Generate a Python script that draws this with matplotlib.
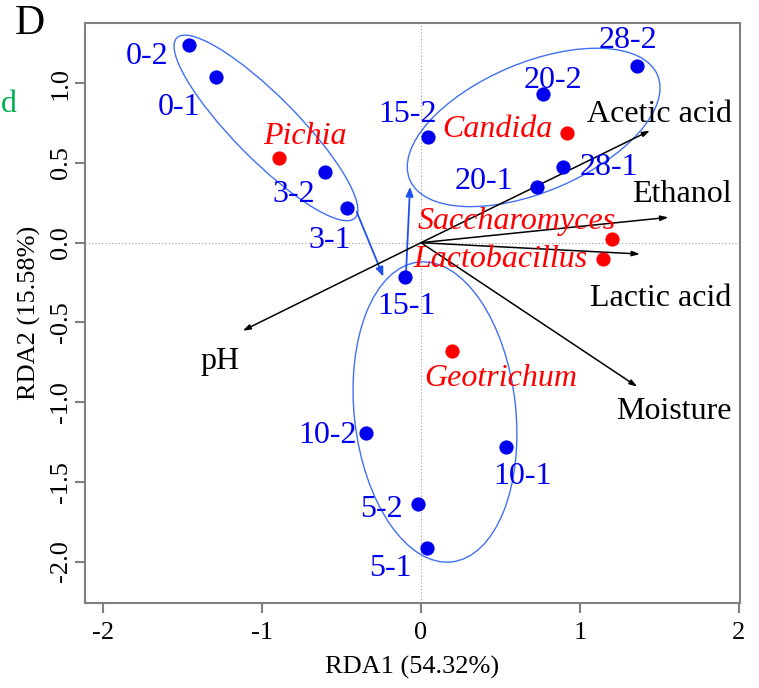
import matplotlib
matplotlib.use("Agg")
import matplotlib.pyplot as plt
from matplotlib.patches import Ellipse

# ---- data -------------------------------------------------------------
samples = ["0-1", "0-2", "3-1", "3-2", "5-1", "5-2", "10-1", "10-2",
           "15-1", "15-2", "20-1", "20-2", "28-1", "28-2"]
sample_rda1 = [-1.290, -1.458, -0.468, -0.604, 0.036, -0.017, 0.533, -0.346,
               -0.101, 0.042, 0.732, 0.770, 0.896, 1.357]
sample_rda2 = [1.041, 1.240, 0.216, 0.445, -1.917, -1.640, -1.280, -1.192,
               -0.213, 0.661, 0.348, 0.933, 0.473, 1.109]

genera = ["Pichia", "Candida", "Saccharomyces", "Lactobacillus", "Geotrichum"]
genus_rda1 = [-0.892, 0.921, 1.200, 1.143, 0.197]
genus_rda2 = [0.529, 0.686, 0.021, -0.102, -0.679]

factors = ["Acetic acid", "Ethanol", "Lactic acid", "Moisture", "pH"]
factor_rda1 = [1.441, 1.557, 1.378, 1.361, -1.122]
factor_rda2 = [0.703, 0.159, -0.071, -0.903, -0.552]

x_ticks = [-2, -1, 0, 1, 2]
y_ticks = [-2.0, -1.5, -1.0, -0.5, 0.0, 0.5, 1.0]
x_title = "RDA1 (54.32%)"
y_title = "RDA2 (15.58%)"

# ---- layout -----------------------------------------------------------
sample_label_pos = {
    "0-2": (-1.726, 1.188), "0-1": (-1.523, 0.870), "3-2": (-0.799, 0.320),
    "3-1": (-0.573, 0.034), "15-2": (-0.082, 0.822), "20-2": (0.828, 1.038),
    "28-2": (1.303, 1.289), "28-1": (1.183, 0.492), "20-1": (0.396, 0.404),
    "15-1": (-0.091, -0.380), "10-1": (0.639, -1.447), "10-2": (-0.588, -1.192),
    "5-2": (-0.247, -1.656), "5-1": (-0.195, -2.022),
}
genus_label_pos = {
    "Pichia": (-0.730, 0.686), "Candida": (0.481, 0.728),
    "Saccharomyces": (0.602, 0.153), "Lactobacillus": (0.503, -0.088),
    "Geotrichum": (0.502, -0.830),
}
factor_label_pos = {
    "Acetic acid": (1.504, 0.822), "Ethanol": (1.643, 0.320),
    "Lactic acid": (1.507, -0.328), "Moisture": (1.592, -1.039),
    "pH": (-1.265, -0.725),
}
# group ellipses: centre, full width, full height, angle
groups = [
    ((-0.976, 0.720), 1.592, 0.400, -45.2),
    ((0.709, 0.723), 1.692, 0.810, 22.8),
    ((0.088, -1.062), 1.892, 1.016, 96.4),
]
# succession arrows between groups
succession = [((-0.405, 0.194), (-0.237, -0.213)),
              ((-0.094, -0.184), (-0.069, 0.351))]

SERIF = ["Liberation Serif", "DejaVu Serif"]
BLUE = "#0000EE"
ELL = "#4070F4"
RED = "#FF0000"
FRAME = "#808080"
FS = 23

plt.rcParams["font.family"] = SERIF

fig = plt.figure(figsize=(7.59, 6.88), dpi=100)
ax = fig.add_axes([85 / 759, 1 - 603 / 688, 655 / 759, 580.3 / 688])
ax.set_xlim(-2.115, 2.008)
ax.set_ylim(-2.260, 1.380)


def label(x, y, s, **kw):
    ax.annotate(s, (x, y), xytext=(0, -2.2), textcoords="offset points",
                fontsize=FS, ha="center", va="center", zorder=5, **kw)


# reference lines through the origin
ax.axhline(0, color="#999999", lw=0.8, ls=(0, (1, 2)), zorder=1)
ax.axvline(0, color="#999999", lw=0.8, ls=(0, (1, 2)), zorder=1)

for centre, w, h, ang in groups:
    ax.add_patch(Ellipse(centre, w, h, angle=ang, fill=False,
                         edgecolor=ELL, lw=1.0, zorder=2))

for start, end in succession:
    ax.annotate("", xy=end, xytext=start,
                arrowprops=dict(arrowstyle="-|>,head_length=0.55,head_width=0.22",
                                color="#1E50F0", lw=1.3, shrinkA=0, shrinkB=0),
                zorder=3)

# environmental factor vectors
for name, fx, fy in zip(factors, factor_rda1, factor_rda2):
    ax.annotate("", xy=(fx, fy), xytext=(0, 0),
                arrowprops=dict(arrowstyle="-|>,head_length=0.45,head_width=0.15",
                                color="black", lw=1.1, shrinkA=0, shrinkB=0),
                zorder=3)
    lx, ly = factor_label_pos[name]
    label(lx, ly, name, color="black")

ax.scatter(sample_rda1, sample_rda2, s=105, color=BLUE, zorder=4, linewidths=0)
for name in samples:
    lx, ly = sample_label_pos[name]
    label(lx, ly, name, color=BLUE)

ax.scatter(genus_rda1, genus_rda2, s=105, color=RED, zorder=4, linewidths=0)
for name in genera:
    lx, ly = genus_label_pos[name]
    label(lx, ly, name, color=RED, style="italic")

# axes styling
for sp in ax.spines.values():
    sp.set_color(FRAME)
    sp.set_linewidth(1.5)
ax.set_xticks(x_ticks)
ax.set_xticklabels([str(v) for v in x_ticks])
ax.set_yticks(y_ticks)
ax.set_yticklabels([f"{v:.1f}" for v in y_ticks], rotation=90, va="center")
ax.tick_params(axis="both", color=FRAME, width=1.5, length=7, labelsize=19)
ax.tick_params(axis="x", pad=7)
ax.tick_params(axis="y", pad=2.5)
ax.set_xlabel(x_title, fontsize=19, labelpad=8)
ax.set_ylabel(y_title, fontsize=19, labelpad=6)

fig.text(15 / 759, 1 - 24 / 688, "D", fontsize=30, ha="left", va="center",
         family=SERIF)
fig.text(1 / 759, 1 - 104 / 688, "d", fontsize=23, ha="left", va="center",
         color="#00B050", family=SERIF)

fig.savefig("out.png", dpi=100)
